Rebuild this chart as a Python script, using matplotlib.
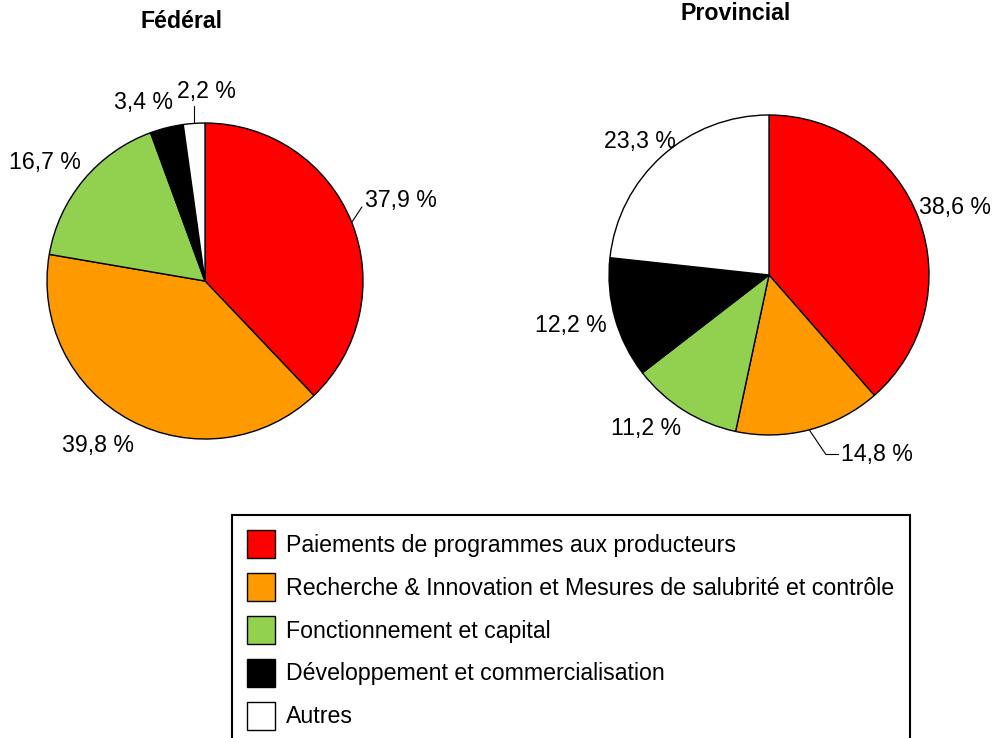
import numpy as np
import matplotlib.pyplot as plt
from matplotlib.patches import Patch

plt.rcParams['font.family'] = ['Liberation Sans', 'DejaVu Sans']

# Data
categories = ["Paiements de programmes aux producteurs",
              "Recherche & Innovation et Mesures de salubrité et contrôle",
              "Fonctionnement et capital",
              "Développement et commercialisation",
              "Autres"]
colors = ["#FF0000", "#FF9900", "#92D050", "#000000", "#FFFFFF"]
federal = [37.9, 39.8, 16.7, 3.4, 2.2]
provincial = [38.6, 14.8, 11.2, 12.2, 23.3]

# Label placement: (angle nudge from wedge middle, distance in radii, leader line)
fed_labels = [(5.0, 1.132, True), (-5.1, 1.24, False), (3.2, 1.26, False),
              (5.0, 1.195, False), (-4.5, 1.2, True)]
prov_labels = [(-0.6, 1.234, False), (7.4, 1.21, True), (-6.6, 1.231, False),
               (-1.5, 1.278, False), (2.0, 1.16, False)]

FS = 16.7

fig = plt.figure(figsize=(9.94, 7.38), dpi=100)


def fmt(v):
    return f"{v:.1f} %".replace(".", ",")


def draw_pie(rect, values, label_opts, leader_style):
    ax = fig.add_axes(rect)
    wedges, _ = ax.pie(values, colors=colors, startangle=90, counterclock=False,
                       wedgeprops=dict(edgecolor="black", linewidth=1))
    ax.set_xlim(-1, 1)
    ax.set_ylim(-1, 1)
    ax.set_aspect("equal")
    for w, v, (nudge, dist, leader) in zip(wedges, values, label_opts):
        mid = np.deg2rad((w.theta1 + w.theta2) / 2)
        ang = mid + np.deg2rad(nudge)
        tx, ty = dist * np.cos(ang), dist * np.sin(ang)
        if leader:
            style = leader_style.get(round(v, 1), "arc3")
            ha = "center" if style == "vertical" else "left"
            props = dict(arrowstyle="-", color="black", lw=0.8, shrinkA=0, shrinkB=0)
            if style == "vertical":
                props["connectionstyle"] = "angle,angleA=0,angleB=90,rad=0"
            elif style != "arc3":
                props["connectionstyle"] = style
                props["relpos"] = (0, 0.5)
            else:
                props["relpos"] = (0, 0.4)
            ax.annotate(fmt(v), xy=(np.cos(mid), np.sin(mid)), xytext=(tx, ty),
                        ha=ha, va="center", fontsize=FS, arrowprops=props,
                        annotation_clip=False)
        else:
            ax.text(tx, ty, fmt(v), ha="center", va="center", fontsize=FS)
    return ax


draw_pie([0.0473, 0.4051, 0.3179, 0.4282], federal, fed_labels,
         {2.2: "vertical"})
draw_pie([0.6127, 0.4106, 0.3219, 0.4336], provincial, prov_labels,
         {14.8: "angle,angleA=0,angleB=-56,rad=0"})

fig.text(182 / 994, 1 - 21 / 738, "Fédéral", ha="center", va="center",
         fontsize=FS, fontweight="bold")
fig.text(736 / 994, 1 - 14 / 738, "Provincial", ha="center", va="center",
         fontsize=FS, fontweight="bold")

handles = [Patch(facecolor=c, edgecolor="black", linewidth=1) for c in colors]
leg = fig.legend(handles, categories, loc="upper left",
                 bbox_to_anchor=(232 / 994, 1 - 515 / 738), borderaxespad=0,
                 fontsize=FS, handlelength=1.21, handleheight=1.48,
                 handletextpad=0.47, labelspacing=0.64, borderpad=0.66,
                 fancybox=False, framealpha=1, edgecolor="black")
leg.get_frame().set_linewidth(1.5)

fig.savefig("out.png", dpi=100)
